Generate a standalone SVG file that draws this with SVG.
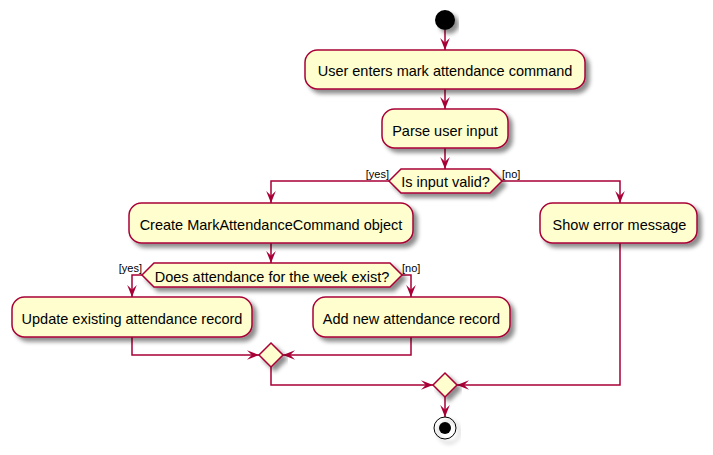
<svg xmlns="http://www.w3.org/2000/svg" width="713" height="455" viewBox="0 0 713 455">
<style>
.box{fill:#FEFECE;stroke:#A80036;stroke-width:1.5;filter:url(#sh)}
.t{font-family:"Liberation Sans",Arial,sans-serif;font-size:14.5px;fill:#000;text-anchor:middle}
.lb{font-family:"Liberation Sans",Arial,sans-serif;font-size:11px;fill:#000}
.c{fill:none;stroke:#A80036;stroke-width:1.5;marker-end:url(#ah)}
</style>
<defs>
<filter id="sh" x="-10%" y="-20%" width="130%" height="160%">
<feGaussianBlur in="SourceAlpha" stdDeviation="2"/>
<feOffset dx="4" dy="4" result="b"/>
<feColorMatrix in="b" type="matrix" values="0 0 0 0 0  0 0 0 0 0  0 0 0 0 0  0 0 0 0.45 0" result="s"/>
<feMerge><feMergeNode in="s"/><feMergeNode in="SourceGraphic"/></feMerge>
</filter>
<marker id="ah" markerUnits="userSpaceOnUse" markerWidth="12" markerHeight="10" viewBox="0 0 10 8" refX="10" refY="4" orient="auto">
<path d="M0,0 L10,4 L0,8 L4,4 Z" fill="#A80036"/>
</marker>
</defs>
<g id="connectors">
<path class="c" d="M445,30 L445,50"/>
<path class="c" d="M445,89 L445,109"/>
<path class="c" d="M445,148 L445,169"/>
<path class="c" d="M389,181 L271,181 L271,203"/>
<path class="c" d="M502,181 L620,181 L620,203"/>
<path class="c" d="M271,243 L271,263"/>
<path class="c" d="M142,275 L132,275 L132,297"/>
<path class="c" d="M402,275 L411,275 L411,297"/>
<path class="c" d="M132,337 L132,355 L259,355"/>
<path class="c" d="M411,337 L411,355 L283,355"/>
<path class="c" d="M271,367 L271,385 L433,385"/>
<path class="c" d="M620,243 L620,385 L457,385"/>
<path class="c" d="M445,397 L445,417"/>
</g>
<g id="start"><circle cx="445" cy="20" r="10" fill="#000" filter="url(#sh)"/></g>
<g id="n1"><rect class="box" x="305" y="50" width="280" height="39" rx="12.5"/><text class="t" x="445" y="76">User enters mark attendance command</text></g>
<g id="n2"><rect class="box" x="382" y="109" width="126" height="39" rx="12.5"/><text class="t" x="445" y="135.5">Parse user input</text></g>
<g id="d1"><polygon class="box" points="389,181 401,169 490,169 502,181 490,193 401,193"/><text class="t" x="445.5" y="187">Is input valid?</text>
<text class="lb" x="389" y="178" text-anchor="end">[yes]</text><text class="lb" x="502" y="178">[no]</text></g>
<g id="n3"><rect class="box" x="129" y="203" width="284" height="40" rx="12.5"/><text class="t" x="271" y="229.5">Create MarkAttendanceCommand object</text></g>
<g id="n4"><rect class="box" x="540" y="203" width="157" height="40" rx="12.5"/><text class="t" x="619.5" y="229.5">Show error message</text></g>
<g id="d2"><polygon class="box" points="142,275 154,263 390,263 402,275 390,287 154,287"/><text class="t" x="272" y="281.5">Does attendance for the week exist?</text>
<text class="lb" x="142" y="272" text-anchor="end">[yes]</text><text class="lb" x="402" y="272">[no]</text></g>
<g id="n5"><rect class="box" x="12" y="297" width="240" height="40" rx="12.5"/><text class="t" x="132" y="323.5">Update existing attendance record</text></g>
<g id="n6"><rect class="box" x="313" y="297" width="197" height="40" rx="12.5"/><text class="t" x="411.5" y="323.5">Add new attendance record</text></g>
<g id="m1"><polygon class="box" points="271,343 283,355 271,367 259,355"/></g>
<g id="m2"><polygon class="box" points="445,373 457,385 445,397 433,385"/></g>
<g id="end"><circle cx="445" cy="428" r="11" fill="none" stroke="#000" stroke-width="1" filter="url(#sh)"/><circle cx="445" cy="428" r="6" fill="#000"/></g>
</svg>
